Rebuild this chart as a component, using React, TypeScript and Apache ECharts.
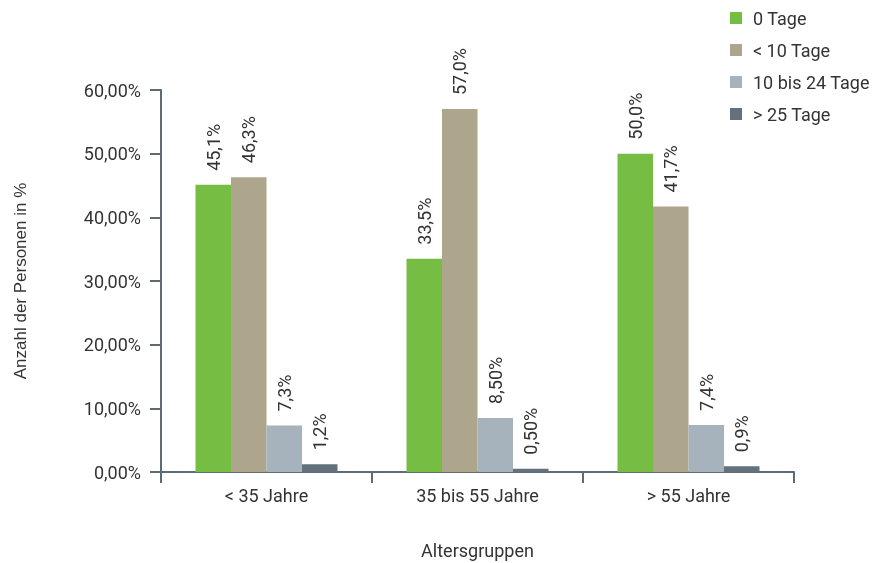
import React, { useEffect, useRef } from "react";
import * as echarts from "echarts";

// Age groups on the category axis
const categories = ["< 35 Jahre", "35 bis 55 Jahre", "> 55 Jahre"];

// Share of persons per sick-day bracket (percent)
const seriesNames = ["0 Tage", "< 10 Tage", "10 bis 24 Tage", "> 25 Tage"];
const tage0 = [45.1, 33.5, 50.0];
const tageUnter10 = [46.3, 57.0, 41.7];
const tage10bis24 = [7.3, 8.5, 7.4];
const tageUeber25 = [1.2, 0.5, 0.9];

// Decimal places shown in each bar's label
const digits0 = [1, 1, 1];
const digitsUnter10 = [1, 1, 1];
const digits10bis24 = [1, 2, 1];
const digitsUeber25 = [1, 2, 1];

const yTicks = { min: 0, max: 60, interval: 10 };

const colors = ["#76bd43", "#ada58c", "#a6b3bd", "#62717d"];
const axisColor = "#5b6b78";
const textColor = "#333333";
const font = "Roboto, 'Liberation Sans', sans-serif";
const fs = 18;

const fmt = (v: number, d: number) => v.toFixed(d).replace(".", ",") + "%";

export default function App() {
  const ref = useRef<HTMLDivElement>(null);

  useEffect(() => {
    if (!ref.current) return;
    const chart = echarts.init(ref.current, null, { renderer: "svg" });

    const data = [tage0, tageUnter10, tage10bis24, tageUeber25];
    const digits = [digits0, digitsUnter10, digits10bis24, digitsUeber25];

    const series = data.map((vals, i) => ({
      name: seriesNames[i],
      type: "bar",
      data: vals,
      barWidth: 35.5,
      barGap: "0%",
      itemStyle: { color: colors[i] },
      label: {
        show: true,
        position: "top",
        rotate: 90,
        align: "left",
        verticalAlign: "middle",
        distance: 14,
        color: textColor,
        fontFamily: font,
        fontSize: fs,
        formatter: (p: any) => fmt(p.value, digits[i][p.dataIndex]),
      },
    }));

    chart.setOption({
      animation: false,
      textStyle: { fontFamily: font },
      legend: {
        orient: "vertical",
        left: 725,
        top: 3,
        itemWidth: 12,
        itemHeight: 12,
        itemGap: 12,
        icon: "rect",
        textStyle: {
          color: textColor,
          fontSize: fs,
          fontFamily: font,
          lineHeight: 20,
          padding: [0, 0, 0, 6],
        },
        data: seriesNames,
      },
      grid: {
        left: 161,
        top: 90,
        width: 633,
        height: 382,
        containLabel: false,
        outerBoundsMode: "none",
      },
      xAxis: {
        type: "category",
        data: categories,
        name: "Altersgruppen",
        nameLocation: "middle",
        nameGap: 69,
        nameTextStyle: { color: textColor, fontSize: fs, fontFamily: font },
        axisLine: { lineStyle: { color: axisColor, width: 2 } },
        axisTick: { show: true, length: 11, lineStyle: { color: axisColor, width: 2 } },
        axisLabel: { color: textColor, fontSize: fs, margin: 14, fontFamily: font },
      },
      yAxis: {
        type: "value",
        min: yTicks.min,
        max: yTicks.max,
        interval: yTicks.interval,
        name: "Anzahl der Personen in %",
        nameLocation: "middle",
        nameGap: 132,
        nameTextStyle: { color: textColor, fontSize: 17, fontFamily: "'Liberation Sans', Arial, sans-serif" },
        axisLine: { show: true, lineStyle: { color: axisColor, width: 2 } },
        axisTick: { show: true, length: 11, lineStyle: { color: axisColor, width: 2 } },
        splitLine: { show: false },
        axisLabel: {
          color: textColor,
          fontSize: fs,
          margin: 20,
          fontFamily: font,
          formatter: (v: number) => v.toFixed(2).replace(".", ",") + "%",
        },
      },
      series,
    });

    return () => chart.dispose();
  }, []);

  return (
    <div
      ref={ref}
      style={{ position: "fixed", left: 0, top: 0, width: 884, height: 563 }}
    />
  );
}
